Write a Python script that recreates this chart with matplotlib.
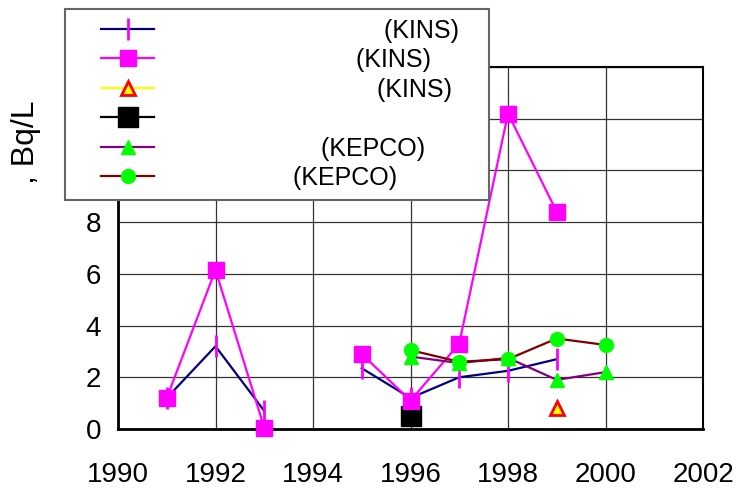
import matplotlib
matplotlib.use("Agg")
import matplotlib.pyplot as plt
from matplotlib.legend_handler import HandlerLine2D

plt.rcParams['font.family'] = ['Liberation Sans', 'DejaVu Sans']

# Data
years_a = [1991, 1992, 1993, 1995, 1996, 1997, 1998, 1999]
series_a = [1.2, 3.2, 0.7, 2.35, 1.2, 2.0, 2.25, 2.7]          # navy line, '|' markers (KINS)
years_b = [1991, 1992, 1993, 1995, 1996, 1997, 1998, 1999]
series_b = [1.2, 6.15, 0.05, 2.9, 1.1, 3.3, 12.2, 8.4]          # magenta squares (KINS)
years_c = [1999]
series_c = [0.8]                                                 # yellow triangle (KINS)
years_d = [1996]
series_d = [0.5]                                                 # black square
years_e = [1996, 1997, 1998, 1999, 2000]
series_e = [2.8, 2.55, 2.75, 1.9, 2.2]                           # purple, green triangles (KEPCO)
years_f = [1996, 1997, 1998, 1999, 2000]
series_f = [3.05, 2.6, 2.7, 3.5, 3.25]                           # dark red, green circles (KEPCO)

labels = [" " * 30 + "(KINS)", " " * 26 + "(KINS)", " " * 29 + "(KINS)", "",
          " " * 21 + "(KEPCO)", " " * 17 + "(KEPCO)"]
x_ticks = [1990, 1992, 1994, 1996, 1998, 2000, 2002]
y_ticks = [0, 2, 4, 6, 8, 10, 12, 14]

fig = plt.figure(figsize=(7.41, 4.96), dpi=100)
ax = fig.add_axes([118/741, 1 - 429/496, (703-118)/741, (429-67)/496])

ax.set_xlim(1990, 2002)
ax.set_ylim(0, 14)
ax.set_xticks(x_ticks)
ax.set_yticks(y_ticks)
ax.grid(True, color='#333333', linewidth=0.9)
ax.set_axisbelow(True)
ax.tick_params(axis='both', length=0, labelsize=20)
ax.tick_params(axis='x', pad=24)
ax.tick_params(axis='y', pad=12)
for s in ['left', 'bottom']:
    ax.spines[s].set_linewidth(2)
for s in ['top', 'right']:
    ax.spines[s].set_linewidth(1.5)

h1, = ax.plot(years_a[:3], series_a[:3], color='#000080', lw=1.6, marker='|',
              mec='#ff00ff', mew=2, ms=16, clip_on=False, zorder=3)
ax.plot(years_a[3:], series_a[3:], color='#000080', lw=1.6, marker='|',
        mec='#ff00ff', mew=2, ms=16, clip_on=False, zorder=3)
h2, = ax.plot(years_b[:3], series_b[:3], color='#ff00ff', lw=1.6, marker='s',
              mfc='#ff00ff', mec='#ff00ff', ms=11, clip_on=False, zorder=4)
ax.plot(years_b[3:], series_b[3:], color='#ff00ff', lw=1.6, marker='s',
        mfc='#ff00ff', mec='#ff00ff', ms=11, clip_on=False, zorder=4)
h3, = ax.plot(years_c, series_c, color='#ffff00', lw=1.6, marker='^',
              mfc='#ffff00', mec='#ff0000', mew=2, ms=10, clip_on=False, zorder=5)
h4, = ax.plot(years_d, series_d, color='black', lw=1.6, marker='s',
              mfc='black', mec='black', ms=15, clip_on=False, zorder=3)
h5, = ax.plot(years_e, series_e, color='#800080', lw=1.6, marker='^',
              mfc='#00ff00', mec='#00ff00', ms=10.5, clip_on=False, zorder=5)
h6, = ax.plot(years_f, series_f, color='#800000', lw=1.6, marker='o',
              mfc='#00ff00', mec='#00ff00', ms=10, clip_on=False, zorder=5)

ax.set_ylabel(", Bq/L", fontsize=23)
ax.yaxis.set_label_coords(-0.131, 0.793)

handler = HandlerLine2D(xpad=1.05)
leg = fig.legend([h1, h2, h3, h4, h5, h6], labels,
                 loc='upper left',
                 bbox_to_anchor=(65/741, 1 - 9/496, (489-65)/741, 0.001),
                 mode='expand', fontsize=18, frameon=True, fancybox=False,
                 handlelength=3.15, labelspacing=0.22, borderpad=0.4,
                 borderaxespad=0, handletextpad=0.8,
                 handler_map={h: handler for h in [h1, h2, h3, h4, h5, h6]})
leg.get_frame().set_edgecolor('#666666')
leg.get_frame().set_linewidth(1.5)
leg.get_frame().set_alpha(1)

fig.savefig("out.png", dpi=100)
